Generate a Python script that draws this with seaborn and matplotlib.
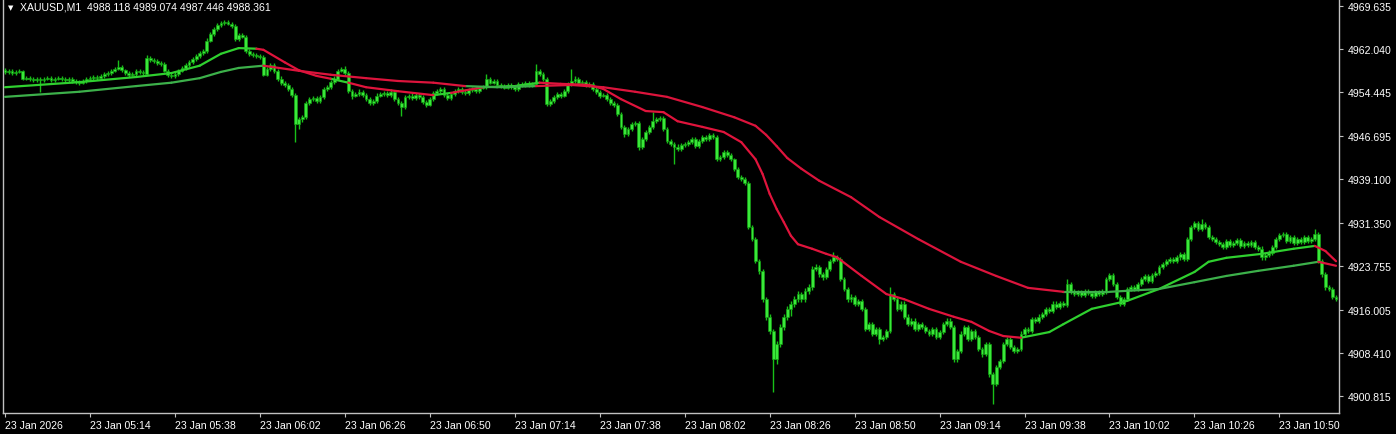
import numpy as np
import pandas as pd
import matplotlib
matplotlib.use("Agg")
import matplotlib.pyplot as plt
import seaborn as sns

# ---------------- data (XAUUSD M1, 23 Jan 2026 04:50 -> 11:06) ----------------
opens = [
    4958.4, 4958.0, 4958.2, 4957.8, 4958.0, 4958.2, 4956.8, 4956.9, 4956.8, 4956.6,
    4956.8, 4956.6, 4956.8, 4956.9, 4956.6, 4956.8, 4956.9, 4956.8, 4956.6, 4956.8,
    4956.4, 4956.2, 4956.1, 4956.4, 4956.8, 4956.9, 4957.1, 4956.9, 4957.3, 4957.6,
    4957.8, 4958.2, 4958.5, 4958.9, 4958.3, 4957.8, 4957.5, 4957.6, 4958.2, 4958.0,
    4957.6, 4960.5, 4960.1, 4959.9, 4959.6, 4959.4, 4958.2, 4957.5, 4957.3, 4957.6,
    4958.2, 4958.7, 4959.2, 4959.7, 4960.3, 4960.8, 4961.3, 4961.7, 4963.5, 4964.7,
    4965.6, 4966.3, 4966.6, 4966.8, 4966.5, 4966.1, 4963.8, 4964.5, 4964.2, 4961.7,
    4961.2, 4961.0, 4960.8, 4960.6, 4957.5, 4958.5, 4959.2, 4958.2, 4956.8, 4956.1,
    4955.7, 4955.0, 4953.9, 4948.8, 4949.7, 4950.0, 4952.5, 4953.2, 4953.4, 4952.9,
    4953.6, 4955.0, 4955.3, 4956.2, 4956.8, 4958.2, 4958.5, 4957.8, 4954.6, 4953.8,
    4954.1, 4954.5, 4953.9, 4953.2, 4952.5, 4952.9, 4953.8, 4954.1, 4954.3, 4953.9,
    4954.5, 4953.2, 4952.5, 4951.8, 4953.6, 4953.8, 4953.4, 4953.9, 4953.6, 4952.7,
    4952.2, 4953.2, 4954.3, 4954.6, 4955.0, 4953.9, 4953.4, 4954.1, 4954.6, 4955.0,
    4954.5, 4954.3, 4954.8, 4955.0, 4954.6, 4955.2, 4955.3, 4956.8, 4956.1, 4956.4,
    4955.7, 4955.5, 4955.2, 4955.7, 4955.3, 4955.0, 4955.9, 4955.7, 4956.1, 4955.7,
    4955.9, 4958.2, 4957.6, 4956.8, 4952.3, 4952.9, 4953.6, 4954.1, 4953.8, 4954.6,
    4955.9, 4956.4, 4956.8, 4956.1, 4956.2, 4955.7, 4955.9, 4955.0, 4954.5, 4953.8,
    4953.9, 4953.2, 4952.5, 4952.2, 4950.6, 4948.3, 4947.0, 4947.9, 4948.8, 4949.0,
    4944.8, 4946.2, 4947.4, 4948.3, 4949.3, 4949.7, 4949.9, 4947.9, 4945.8, 4945.3,
    4944.8, 4944.4, 4945.1, 4945.3, 4945.6, 4946.2, 4944.9, 4945.8, 4946.5, 4946.2,
    4946.9, 4946.5, 4942.6, 4943.0, 4943.9, 4943.3, 4942.6, 4940.9, 4939.5, 4939.1,
    4938.4, 4930.6, 4928.5, 4924.6, 4922.9, 4917.9, 4914.8, 4912.3, 4907.3, 4910.0,
    4913.0, 4914.8, 4916.2, 4917.1, 4917.9, 4918.8, 4917.9, 4919.3, 4920.0, 4923.2,
    4923.6, 4922.3, 4921.8, 4923.2, 4924.6, 4925.3, 4925.0, 4921.5, 4919.7, 4917.9,
    4918.3, 4917.1, 4917.6, 4916.2, 4912.6, 4913.5, 4911.8, 4912.6, 4910.9, 4911.2,
    4912.3, 4918.8, 4917.9, 4916.2, 4917.1, 4914.8, 4913.5, 4914.1, 4912.6, 4913.5,
    4913.0, 4912.3, 4911.8, 4912.6, 4911.2, 4912.1, 4913.5, 4914.1, 4913.0, 4907.3,
    4908.8, 4911.8, 4913.0, 4910.9, 4912.3, 4911.2, 4909.1, 4908.2, 4910.0, 4904.7,
    4902.9, 4905.9, 4907.0, 4910.0, 4910.9, 4909.5, 4908.8, 4909.1, 4911.8, 4912.6,
    4912.3, 4914.4, 4914.1, 4914.8, 4915.3, 4916.2, 4915.8, 4917.1, 4916.5, 4917.2,
    4916.9, 4920.6, 4919.3, 4918.8, 4919.2, 4918.6, 4919.3, 4919.0, 4918.5, 4919.2,
    4918.8, 4919.3, 4921.5, 4922.2, 4920.6, 4918.3, 4917.1, 4917.9, 4919.7, 4920.0,
    4919.7, 4920.6, 4921.5, 4922.0, 4921.1, 4922.2, 4922.5, 4923.6, 4924.1, 4924.6,
    4925.0, 4924.6, 4925.3, 4925.9, 4925.0, 4928.5, 4930.6, 4931.3, 4930.3, 4931.2,
    4930.6, 4928.9, 4928.5, 4928.0, 4927.6, 4927.1, 4928.2, 4927.5, 4927.8, 4928.3,
    4927.3, 4927.8, 4927.5, 4928.0, 4927.1, 4926.8, 4925.3, 4925.7, 4926.1, 4927.1,
    4928.5, 4929.2, 4929.4, 4928.2, 4928.9, 4927.8, 4928.5, 4928.0, 4928.9, 4928.2,
    4928.5, 4929.4, 4924.6, 4922.3, 4920.0, 4919.7, 4918.3,
]
highs = [
    4958.7, 4958.5, 4958.5, 4958.3, 4958.5, 4958.4, 4957.2, 4957.2, 4957.1, 4957.1,
    4957.1, 4957.1, 4957.2, 4957.2, 4957.1, 4957.3, 4957.2, 4957.1, 4957.1, 4957.1,
    4956.8, 4956.5, 4956.7, 4957.1, 4957.2, 4957.5, 4957.4, 4957.7, 4958.0, 4958.2,
    4958.6, 4958.9, 4960.1, 4959.2, 4958.6, 4958.1, 4957.9, 4958.6, 4958.5, 4958.3,
    4960.9, 4960.8, 4960.5, 4960.2, 4959.9, 4959.7, 4958.5, 4957.9, 4957.9, 4958.5,
    4959.0, 4959.5, 4960.1, 4960.7, 4961.1, 4961.7, 4962.0, 4963.9, 4965.1, 4966.0,
    4966.7, 4967.0, 4967.2, 4967.1, 4966.8, 4966.4, 4964.9, 4964.8, 4964.5, 4962.1,
    4961.6, 4961.4, 4961.1, 4960.9, 4958.8, 4959.6, 4959.6, 4958.5, 4957.2, 4956.4,
    4956.0, 4955.3, 4954.2, 4950.0, 4950.4, 4952.8, 4953.6, 4953.8, 4953.7, 4954.0,
    4955.3, 4955.7, 4956.5, 4957.2, 4958.6, 4958.9, 4959.1, 4958.1, 4955.0, 4954.5,
    4954.9, 4954.8, 4954.2, 4953.5, 4953.2, 4954.2, 4954.5, 4954.7, 4954.6, 4954.9,
    4954.8, 4953.5, 4952.8, 4954.0, 4954.1, 4954.2, 4954.2, 4954.3, 4953.9, 4953.0,
    4953.6, 4954.6, 4954.9, 4955.4, 4955.3, 4954.2, 4954.4, 4955.0, 4955.4, 4955.3,
    4954.9, 4955.1, 4955.4, 4955.3, 4955.5, 4955.7, 4957.6, 4957.1, 4956.8, 4956.7,
    4956.0, 4955.8, 4956.0, 4956.0, 4955.6, 4956.2, 4956.2, 4956.4, 4956.4, 4956.2,
    4959.4, 4958.6, 4957.9, 4957.1, 4953.3, 4953.9, 4954.5, 4954.4, 4954.9, 4956.3,
    4958.5, 4957.2, 4957.1, 4956.6, 4956.5, 4956.2, 4956.2, 4955.3, 4954.8, 4954.3,
    4954.2, 4953.6, 4952.9, 4952.5, 4950.9, 4948.6, 4948.3, 4949.2, 4949.4, 4949.3,
    4946.6, 4947.8, 4948.7, 4950.9, 4950.1, 4950.3, 4950.2, 4948.2, 4946.2, 4945.6,
    4945.2, 4945.5, 4945.7, 4946.0, 4946.6, 4946.5, 4946.2, 4946.9, 4946.8, 4947.3,
    4947.3, 4946.8, 4943.3, 4944.3, 4944.2, 4943.7, 4942.9, 4941.2, 4939.9, 4939.5,
    4938.8, 4931.0, 4928.9, 4925.0, 4923.3, 4918.3, 4915.2, 4912.7, 4910.5, 4913.5,
    4915.3, 4916.7, 4917.6, 4918.4, 4919.3, 4919.2, 4919.8, 4920.5, 4923.7, 4924.1,
    4924.0, 4922.7, 4923.6, 4925.0, 4926.2, 4925.7, 4925.4, 4921.9, 4920.1, 4918.8,
    4918.7, 4918.0, 4918.0, 4916.6, 4913.9, 4913.9, 4913.0, 4913.0, 4911.6, 4912.7,
    4920.0, 4919.2, 4918.3, 4917.5, 4917.5, 4915.2, 4914.5, 4914.5, 4913.9, 4913.9,
    4913.4, 4912.7, 4913.0, 4913.0, 4912.5, 4913.9, 4914.5, 4914.5, 4913.4, 4909.2,
    4912.2, 4913.4, 4913.4, 4912.7, 4912.7, 4911.6, 4909.5, 4910.4, 4910.4, 4905.1,
    4906.3, 4907.4, 4910.4, 4911.3, 4911.3, 4909.9, 4909.5, 4912.2, 4913.0, 4913.0,
    4914.8, 4914.8, 4915.2, 4915.7, 4916.6, 4916.6, 4917.5, 4917.5, 4917.6, 4917.6,
    4921.5, 4921.0, 4919.7, 4919.6, 4919.6, 4919.7, 4919.7, 4919.4, 4919.6, 4919.6,
    4919.7, 4921.9, 4922.6, 4922.6, 4921.0, 4918.7, 4918.3, 4920.1, 4920.4, 4920.4,
    4921.0, 4921.9, 4922.4, 4922.4, 4922.6, 4922.9, 4924.0, 4924.5, 4925.0, 4925.4,
    4925.4, 4925.7, 4926.3, 4926.3, 4928.9, 4931.0, 4931.7, 4931.7, 4932.0, 4931.6,
    4931.0, 4929.3, 4928.9, 4928.4, 4928.0, 4928.6, 4928.6, 4928.2, 4928.7, 4928.7,
    4928.2, 4928.2, 4928.4, 4928.4, 4927.5, 4927.2, 4926.1, 4926.5, 4927.5, 4928.9,
    4929.6, 4929.8, 4929.8, 4929.3, 4929.3, 4928.9, 4928.9, 4929.3, 4929.3, 4928.9,
    4930.3, 4929.8, 4925.0, 4922.7, 4920.4, 4920.1, 4918.7,
]
lows = [
    4957.7, 4957.7, 4957.5, 4957.5, 4957.8, 4956.5, 4956.5, 4956.4, 4956.3, 4956.3,
    4954.5, 4956.3, 4956.5, 4956.3, 4956.3, 4956.5, 4956.4, 4956.3, 4956.3, 4956.0,
    4955.8, 4955.7, 4955.8, 4956.1, 4956.5, 4956.6, 4956.5, 4956.6, 4957.0, 4957.3,
    4957.5, 4957.9, 4958.3, 4958.0, 4957.4, 4957.1, 4957.2, 4957.3, 4957.7, 4957.4,
    4957.4, 4959.8, 4959.6, 4959.3, 4959.0, 4957.9, 4957.1, 4956.9, 4957.0, 4957.3,
    4957.9, 4958.4, 4958.9, 4959.4, 4960.0, 4960.5, 4961.0, 4961.4, 4963.2, 4964.3,
    4965.3, 4966.0, 4966.3, 4966.2, 4965.8, 4963.5, 4963.5, 4963.9, 4961.4, 4960.8,
    4960.6, 4960.5, 4960.2, 4957.2, 4957.2, 4958.1, 4957.8, 4956.4, 4955.7, 4955.3,
    4954.7, 4953.5, 4945.6, 4948.0, 4949.2, 4949.7, 4952.1, 4952.8, 4952.5, 4952.5,
    4953.3, 4954.6, 4955.0, 4955.9, 4956.5, 4957.9, 4957.5, 4954.3, 4953.3, 4953.5,
    4953.8, 4953.6, 4952.8, 4952.1, 4952.1, 4952.6, 4953.5, 4953.8, 4953.5, 4953.6,
    4952.9, 4952.1, 4950.2, 4951.5, 4953.3, 4953.0, 4953.1, 4953.3, 4952.3, 4951.8,
    4951.9, 4952.9, 4954.0, 4954.3, 4953.5, 4953.0, 4953.0, 4953.8, 4954.3, 4954.1,
    4953.9, 4953.9, 4954.5, 4954.2, 4954.3, 4954.9, 4955.0, 4955.8, 4955.8, 4955.3,
    4955.1, 4954.9, 4954.9, 4955.0, 4954.7, 4954.7, 4955.4, 4955.4, 4955.4, 4955.4,
    4955.6, 4957.2, 4956.4, 4951.9, 4952.0, 4952.6, 4953.3, 4953.4, 4953.5, 4954.3,
    4955.6, 4956.1, 4955.8, 4955.8, 4955.4, 4955.4, 4954.7, 4954.1, 4953.4, 4953.5,
    4952.9, 4952.1, 4951.8, 4950.2, 4947.9, 4946.5, 4946.7, 4947.6, 4948.4, 4944.3,
    4944.4, 4945.9, 4947.0, 4948.0, 4949.0, 4949.3, 4947.5, 4945.4, 4944.9, 4941.8,
    4944.0, 4944.0, 4944.7, 4944.9, 4945.2, 4944.5, 4944.5, 4945.4, 4945.8, 4945.8,
    4946.1, 4942.2, 4942.3, 4942.7, 4943.0, 4942.2, 4940.6, 4939.1, 4938.7, 4938.0,
    4930.2, 4928.1, 4924.2, 4922.4, 4917.4, 4914.3, 4911.8, 4901.5, 4906.5, 4909.5,
    4912.4, 4914.2, 4915.0, 4916.6, 4917.4, 4917.4, 4917.4, 4918.8, 4919.5, 4922.8,
    4921.9, 4921.3, 4921.4, 4922.8, 4924.2, 4924.6, 4921.1, 4919.3, 4917.4, 4917.4,
    4916.7, 4916.7, 4915.8, 4912.2, 4912.2, 4911.4, 4911.4, 4910.0, 4910.5, 4910.8,
    4912.0, 4917.5, 4915.8, 4915.8, 4914.4, 4913.1, 4913.1, 4912.2, 4912.2, 4912.6,
    4911.9, 4911.4, 4911.4, 4910.8, 4910.8, 4911.7, 4913.1, 4912.6, 4906.8, 4906.8,
    4908.4, 4911.4, 4910.5, 4910.5, 4910.8, 4908.7, 4907.7, 4907.8, 4904.2, 4899.4,
    4902.5, 4905.5, 4906.6, 4909.6, 4909.1, 4908.4, 4908.4, 4908.7, 4911.4, 4911.9,
    4911.9, 4913.7, 4913.7, 4914.4, 4914.9, 4915.4, 4915.4, 4916.1, 4916.1, 4916.5,
    4916.5, 4918.9, 4918.4, 4918.4, 4918.2, 4918.2, 4918.6, 4918.1, 4918.1, 4918.4,
    4918.4, 4918.9, 4921.1, 4920.2, 4917.9, 4916.7, 4916.7, 4917.5, 4919.3, 4919.3,
    4919.3, 4920.2, 4921.1, 4920.7, 4920.7, 4921.8, 4922.1, 4923.2, 4923.7, 4924.2,
    4924.2, 4924.2, 4924.9, 4924.6, 4924.6, 4928.1, 4930.2, 4929.9, 4929.9, 4930.2,
    4928.5, 4928.1, 4927.6, 4927.2, 4926.7, 4926.7, 4927.1, 4927.1, 4927.4, 4926.9,
    4926.9, 4927.1, 4927.1, 4926.7, 4926.4, 4924.9, 4924.9, 4925.3, 4925.7, 4926.7,
    4928.1, 4928.8, 4927.8, 4927.8, 4927.4, 4927.4, 4927.6, 4927.6, 4927.8, 4927.8,
    4928.1, 4924.2, 4921.9, 4919.6, 4919.3, 4917.9, 4917.5,
]
closes = [
    4958.0, 4958.2, 4957.8, 4958.0, 4958.2, 4956.8, 4956.9, 4956.8, 4956.6, 4956.8,
    4956.6, 4956.8, 4956.9, 4956.6, 4956.8, 4956.9, 4956.8, 4956.6, 4956.8, 4956.4,
    4956.2, 4956.1, 4956.4, 4956.8, 4956.9, 4957.1, 4956.9, 4957.3, 4957.6, 4957.8,
    4958.2, 4958.5, 4958.9, 4958.3, 4957.8, 4957.5, 4957.6, 4958.2, 4958.0, 4957.8,
    4960.5, 4960.1, 4959.9, 4959.6, 4959.4, 4958.2, 4957.5, 4957.3, 4957.6, 4958.2,
    4958.7, 4959.2, 4959.7, 4960.3, 4960.8, 4961.3, 4961.7, 4963.5, 4964.7, 4965.6,
    4966.3, 4966.6, 4966.8, 4966.5, 4966.1, 4963.8, 4964.5, 4964.2, 4961.7, 4961.2,
    4961.0, 4960.8, 4960.6, 4957.5, 4958.5, 4959.2, 4958.2, 4956.8, 4956.1, 4955.7,
    4955.0, 4953.9, 4948.8, 4949.7, 4950.0, 4952.5, 4953.2, 4953.4, 4952.9, 4953.6,
    4955.0, 4955.3, 4956.2, 4956.8, 4958.2, 4958.5, 4957.8, 4954.6, 4953.8, 4954.1,
    4954.5, 4953.9, 4953.2, 4952.5, 4952.9, 4953.8, 4954.1, 4954.3, 4953.9, 4954.5,
    4953.2, 4952.5, 4951.8, 4953.6, 4953.8, 4953.4, 4953.9, 4953.6, 4952.7, 4952.2,
    4953.2, 4954.3, 4954.6, 4955.0, 4953.9, 4953.4, 4954.1, 4954.6, 4955.0, 4954.5,
    4954.3, 4954.8, 4955.0, 4954.6, 4955.2, 4955.3, 4956.8, 4956.1, 4956.4, 4955.7,
    4955.5, 4955.2, 4955.7, 4955.3, 4955.0, 4955.9, 4955.7, 4956.1, 4955.7, 4955.9,
    4958.2, 4957.6, 4956.8, 4952.3, 4952.9, 4953.6, 4954.1, 4953.8, 4954.6, 4955.9,
    4956.4, 4956.8, 4956.1, 4956.2, 4955.7, 4955.9, 4955.0, 4954.5, 4953.8, 4953.9,
    4953.2, 4952.5, 4952.2, 4950.6, 4948.3, 4947.0, 4947.9, 4948.8, 4949.0, 4944.8,
    4946.2, 4947.4, 4948.3, 4949.3, 4949.7, 4949.9, 4947.9, 4945.8, 4945.3, 4944.8,
    4944.4, 4945.1, 4945.3, 4945.6, 4946.2, 4944.9, 4945.8, 4946.5, 4946.2, 4946.9,
    4946.5, 4942.6, 4943.0, 4943.9, 4943.3, 4942.6, 4940.9, 4939.5, 4939.1, 4938.4,
    4930.6, 4928.5, 4924.6, 4922.9, 4917.9, 4914.8, 4912.3, 4907.3, 4910.0, 4913.0,
    4914.8, 4916.2, 4917.1, 4917.9, 4918.8, 4917.9, 4919.3, 4920.0, 4923.2, 4923.6,
    4922.3, 4921.8, 4923.2, 4924.6, 4925.3, 4925.0, 4921.5, 4919.7, 4917.9, 4918.3,
    4917.1, 4917.6, 4916.2, 4912.6, 4913.5, 4911.8, 4912.6, 4910.9, 4911.2, 4912.3,
    4918.8, 4917.9, 4916.2, 4917.1, 4914.8, 4913.5, 4914.1, 4912.6, 4913.5, 4913.0,
    4912.3, 4911.8, 4912.6, 4911.2, 4912.1, 4913.5, 4914.1, 4913.0, 4907.3, 4908.8,
    4911.8, 4913.0, 4910.9, 4912.3, 4911.2, 4909.1, 4908.2, 4910.0, 4904.7, 4902.9,
    4905.9, 4907.0, 4910.0, 4910.9, 4909.5, 4908.8, 4909.1, 4911.8, 4912.6, 4912.3,
    4914.4, 4914.1, 4914.8, 4915.3, 4916.2, 4915.8, 4917.1, 4916.5, 4917.2, 4916.9,
    4920.6, 4919.3, 4918.8, 4919.2, 4918.6, 4919.3, 4919.0, 4918.5, 4919.2, 4918.8,
    4919.3, 4921.5, 4922.2, 4920.6, 4918.3, 4917.1, 4917.9, 4919.7, 4920.0, 4919.7,
    4920.6, 4921.5, 4922.0, 4921.1, 4922.2, 4922.5, 4923.6, 4924.1, 4924.6, 4925.0,
    4924.6, 4925.3, 4925.9, 4925.0, 4928.5, 4930.6, 4931.3, 4930.3, 4931.2, 4930.6,
    4928.9, 4928.5, 4928.0, 4927.6, 4927.1, 4928.2, 4927.5, 4927.8, 4928.3, 4927.3,
    4927.8, 4927.5, 4928.0, 4927.1, 4926.8, 4925.3, 4925.7, 4926.1, 4927.1, 4928.5,
    4929.2, 4929.4, 4928.2, 4928.9, 4927.8, 4928.5, 4928.0, 4928.9, 4928.2, 4928.5,
    4929.4, 4924.6, 4922.3, 4920.0, 4919.7, 4918.3, 4917.9,
]

# moving averages (bar index, price)
fast_bars = [0, 21, 37, 47, 55, 61, 66, 71, 73, 79, 83, 88, 92, 97, 102, 111, 121, 126, 135, 144,
             151, 157, 165, 169, 174, 181, 186, 190, 197, 203, 208, 212, 214, 216, 218, 220, 222, 224,
             228, 232, 235, 242, 249, 254, 261, 268, 273, 278, 282, 287, 295, 299, 307, 317, 326, 336,
             340, 345, 355, 364, 370, 373, 376]
fast_vals = [4955.3, 4956.2, 4957.1, 4957.8, 4959.1, 4961.2, 4962.2, 4962.1, 4961.9, 4959.7,
             4958.3, 4957.3, 4956.8, 4956.1, 4955.3, 4954.6, 4953.9, 4954.3, 4955.3, 4955.5,
             4956.1, 4955.9, 4955.7, 4955.0, 4953.2, 4951.1, 4950.9, 4949.3, 4948.3, 4947.4,
             4945.6, 4942.6, 4940.0, 4936.5, 4933.8, 4931.5, 4929.1, 4927.6,
             4926.8, 4925.9, 4925.3, 4922.0, 4918.8, 4917.9, 4916.2, 4914.8, 4913.9, 4912.3,
             4911.4, 4911.1, 4912.1, 4913.5, 4916.2, 4917.6, 4919.7, 4922.7,
             4924.5, 4925.2, 4925.9, 4926.8, 4927.3, 4926.4, 4924.6]
slow_bars = [0, 21, 37, 47, 55, 61, 66, 73, 83, 92, 102, 111, 121, 130, 139, 150, 160, 169, 178, 187,
             197, 206, 212, 215, 218, 221, 225, 230, 239, 247, 258, 270, 280, 289, 299, 312, 326, 336,
             345, 354, 364, 371, 376]
slow_vals = [4953.6, 4954.5, 4955.5, 4956.1, 4956.9, 4958.0, 4958.7, 4959.1, 4958.2, 4957.5,
             4956.9, 4956.4, 4956.1, 4955.5, 4955.3, 4955.5, 4955.7, 4955.3, 4954.5, 4953.6,
             4951.8, 4950.0, 4948.5, 4946.9, 4944.9, 4942.8, 4940.9, 4938.8, 4935.9, 4932.4,
             4928.5, 4924.5, 4922.0, 4919.9, 4919.2, 4919.2, 4919.7, 4920.9,
             4922.0, 4922.9, 4923.8, 4924.5, 4923.8]

y_ticks = [4900.815, 4908.410, 4916.005, 4923.755, 4931.350, 4939.100, 4946.695, 4954.445, 4962.040, 4969.635]
y_tick_labels = ["4900.815", "4908.410", "4916.005", "4923.755", "4931.350",
                 "4939.100", "4946.695", "4954.445", "4962.040", "4969.635"]
x_tick_bars = [0, 24, 48, 72, 96, 120, 144, 168, 192, 216, 240, 264, 288, 312, 336, 360]
x_tick_labels = ["23 Jan 2026", "23 Jan 05:14", "23 Jan 05:38", "23 Jan 06:02", "23 Jan 06:26",
                 "23 Jan 06:50", "23 Jan 07:14", "23 Jan 07:38", "23 Jan 08:02", "23 Jan 08:26",
                 "23 Jan 08:50", "23 Jan 09:14", "23 Jan 09:38", "23 Jan 10:02", "23 Jan 10:26",
                 "23 Jan 10:50"]
header = "XAUUSD,M1  4988.118 4989.074 4987.446 4988.361"

# ---------------- styling ----------------
sns.set_theme(style="dark")
plt.rcParams.update({
    "figure.facecolor": "black",
    "axes.facecolor": "black",
    "savefig.facecolor": "black",
    "text.color": "white",
    "axes.edgecolor": "#c0c0c0",
    "xtick.color": "#c0c0c0",
    "ytick.color": "#c0c0c0",
    "xtick.labelcolor": "white",
    "ytick.labelcolor": "white",
    "axes.grid": False,
})
plt.rcParams["font.family"] = ["Liberation Sans", "DejaVu Sans"]

W, H = 1396, 435
fig = plt.figure(figsize=(W / 100, H / 100), dpi=100)
ax = fig.add_axes([3 / W, 1 - 414 / H, (1339 - 3) / W, (414 - 1) / H])
ax.set_facecolor("black")

idx = np.arange(len(closes))
o = np.asarray(opens)
c = np.asarray(closes)
h = np.asarray(highs)
l = np.asarray(lows)

# candles
ax.vlines(idx, l, h, colors="#18c018", linewidth=1.0, zorder=2)
body_lo = np.minimum(o, c)
body_h = np.maximum(np.abs(c - o), 0.08)
ax.bar(idx, body_h, bottom=body_lo, width=0.8, color="#3ae83a",
       edgecolor="#12a012", linewidth=0.45, zorder=3)

# moving averages, coloured by price position (below -> red, above -> green)
rows = []
seg = 0
for name, bars, vals in (("fast", fast_bars, fast_vals), ("slow", slow_bars, slow_vals)):
    for k in range(len(bars) - 1):
        a, b = bars[k], bars[k + 1]
        mid = 0.5 * (vals[k] + vals[k + 1])
        state = "down" if c[a:b + 1].mean() < mid else "up"
        key = f"{name}_{state}"
        rows.append({"bar": a, "price": vals[k], "seg": seg, "key": key})
        rows.append({"bar": b, "price": vals[k + 1], "seg": seg, "key": key})
        seg += 1
ma_df = pd.DataFrame(rows)
palette = {"fast_up": "#2fd02f", "fast_down": "#e0143c",
           "slow_up": "#3cb04a", "slow_down": "#dc143c"}
sns.lineplot(data=ma_df, x="bar", y="price", units="seg", hue="key", palette=palette,
             estimator=None, sort=False, legend=False, linewidth=1.6, ax=ax, zorder=4,
             solid_capstyle="round", solid_joinstyle="round")

# axes
ax.set_xlim(-0.565, 376.84)
ax.set_ylim(4897.82, 4970.69)
ax.set_xlabel("")
ax.set_ylabel("")
ax.spines["top"].set_visible(False)
for s in ("left", "right", "bottom"):
    ax.spines[s].set_color("#c0c0c0")
    ax.spines[s].set_linewidth(1.0)

ax.yaxis.tick_right()
ax.set_yticks(y_ticks)
ax.set_yticklabels(y_tick_labels)
ax.tick_params(axis="y", which="both", right=True, left=False, labelright=True, labelleft=False,
               length=3, width=0.8, pad=3, labelsize=7.6)
ax.set_xticks(x_tick_bars)
ax.set_xticklabels(x_tick_labels)
ax.tick_params(axis="x", bottom=True, length=3, width=0.8, pad=2, labelsize=7.6)
for lbl in ax.get_xticklabels():
    lbl.set_ha("left")

# header
fig.text(8 / W, 1 - 8 / H, "\u25bc", family=["DejaVu Sans"], fontsize=5, color="white",
         va="center", ha="left")
fig.text(20 / W, 1 - 8 / H, header, fontsize=7.6, color="white", va="center", ha="left")

fig.savefig("out.png", dpi=100, facecolor="black")
